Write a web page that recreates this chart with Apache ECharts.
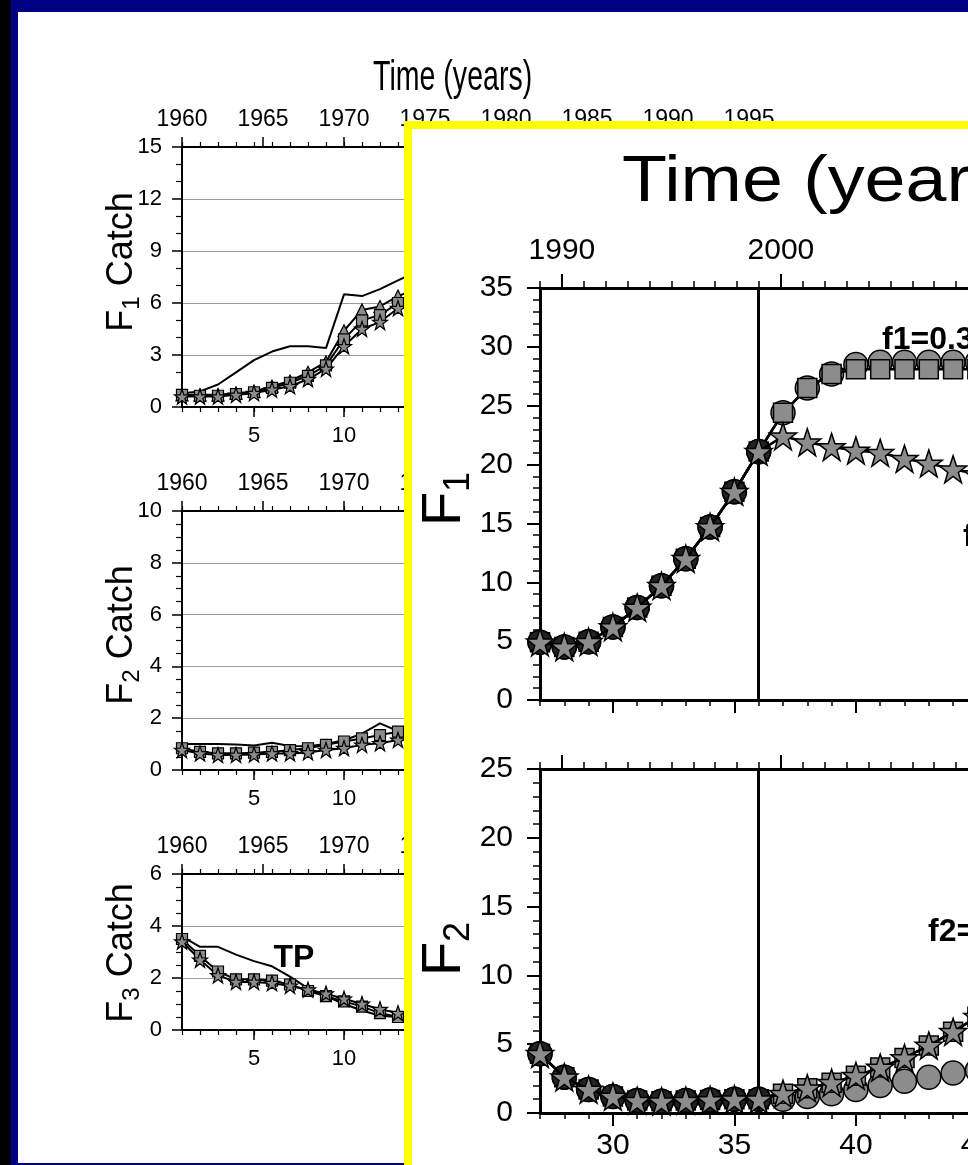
<!DOCTYPE html>
<html>
<head>
<meta charset="utf-8">
<script src="https://cdn.jsdelivr.net/npm/echarts@6.0.0/dist/echarts.min.js"></script>
<style>
  html, body { margin: 0; padding: 0; width: 968px; height: 1165px; overflow: hidden; background: #000080; }
  #edge { position: absolute; left: 0; top: 0; width: 11px; height: 1165px; background: #000; }
  #paper { position: absolute; left: 18px; top: 12px; width: 950px; height: 1151px; background: #fff; }
  #main { position: absolute; left: 0; top: 0; width: 968px; height: 1165px; }
  #panel { position: absolute; left: 404px; top: 121px; width: 700px; height: 1100px; border: 8px solid #ffff00; background: #fff; }
  #zoom { position: absolute; left: 0; top: 0; width: 556px; height: 1036px; }
</style>
</head>
<body>
<div id="edge"></div>
<div id="paper"></div>
<div id="main"></div>
<div id="panel"><div id="zoom"></div></div>
<script>
const FONT = "'Liberation Sans', Helvetica, Arial, sans-serif"
const STAR = 'path://M50,2 L61.8,36.2 L97.6,36.2 L68.6,57.6 L79.4,92 L50,71 L20.6,92 L31.4,57.6 L2.4,36.2 L38.2,36.2 Z'
const GRAY = '#8c8c8c'

// ---- left figure: catch series, index 1..14 (rest hidden under panel)
const catchIdx = [1, 2, 3, 4, 5, 6, 7, 8, 9, 10, 11, 12, 13, 14]
const idxTicks = [5, 10, 15, 20, 25, 30, 35]

const f1Tp = [0.8, 0.9, 1.3, 2.0, 2.7, 3.2, 3.5, 3.5, 3.4, 6.5, 6.4, 6.8, 7.3, 7.8]
const f1Tri = [0.7, 0.7, 0.7, 0.8, 0.9, 1.2, 1.5, 2.0, 2.6, 4.4, 5.6, 5.8, 6.4, 6.8]
const f1Sq = [0.7, 0.65, 0.65, 0.75, 0.85, 1.1, 1.4, 1.8, 2.4, 3.9, 5.0, 5.3, 6.0, 6.4]
const f1Star = [0.6, 0.6, 0.6, 0.7, 0.8, 1.0, 1.2, 1.6, 2.2, 3.5, 4.5, 4.9, 5.7, 6.1]

const f2Tp = [1.0, 1.0, 1.0, 0.98, 0.95, 1.05, 0.93, 0.92, 1.0, 1.15, 1.4, 1.8, 1.5, 1.45]
const f2Sq = [0.84, 0.7, 0.64, 0.64, 0.67, 0.7, 0.77, 0.84, 0.97, 1.1, 1.22, 1.35, 1.48, 1.55]
const f2Star = [0.77, 0.64, 0.58, 0.58, 0.6, 0.64, 0.64, 0.68, 0.77, 0.84, 0.97, 1.03, 1.16, 1.2]

const f3Tp = [3.6, 3.2, 3.2, 2.9, 2.65, 2.45, 2.05, 1.6, 1.3, 1.0, 0.75, 0.55, 0.5, 0.5]
const f3Sq = [3.5, 2.85, 2.25, 1.95, 1.95, 1.9, 1.75, 1.5, 1.3, 1.1, 0.9, 0.65, 0.5, 0.45]
const f3Star = [3.4, 2.7, 2.1, 1.85, 1.85, 1.8, 1.7, 1.55, 1.4, 1.2, 1.0, 0.8, 0.65, 0.6]

// ---- inset: index 27..46
const runIdx = [27, 28, 29, 30, 31, 32, 33, 34, 35, 36, 37, 38, 39, 40, 41, 42, 43, 44, 45, 46]
const histIdx = [27, 28, 29, 30, 31, 32, 33, 34, 35, 36]
const runTicks = [30, 35, 40, 45]
const yearTicks = [1990, 2000, 2010]
const splitAt = 36

const bigF1Hist = [4.9, 4.5, 4.95, 6.2, 7.85, 9.7, 12.0, 14.7, 17.7, 21.1]
const bigF1Circ = [24.4, 26.5, 27.7, 28.5, 28.7, 28.7, 28.7, 28.7, 28.7, 28.7]
const bigF1Sq = [24.4, 26.5, 27.7, 28.1, 28.1, 28.1, 28.1, 28.1, 28.1, 28.1]
const bigF1Star = [22.4, 21.9, 21.5, 21.2, 21.0, 20.5, 20.1, 19.6, 19.2, 18.8]

const bigF2Hist = [4.3, 2.6, 1.7, 1.2, 0.9, 0.85, 0.9, 0.95, 1.0, 1.0]
const bigF2Circ = [1.0, 1.2, 1.4, 1.7, 2.0, 2.3, 2.6, 2.9, 3.1, 3.3]
const bigF2Sq = [1.4, 1.8, 2.2, 2.7, 3.3, 4.0, 4.9, 5.9, 7.0, 8.2]
const bigF2Star = [1.4, 1.8, 2.2, 2.7, 3.3, 4.0, 4.9, 5.9, 7.0, 8.2]

const pts = (xs, ys) => ys.map((v, i) => [xs[i], v])
const blk = w => ({ color: '#000', width: w })
const plain = v => String(v)

// ---------- left figure ----------
const leftChart = echarts.init(document.getElementById('main'))
const smallGrids = [
  { top: 147, height: 260, max: 15, interval: 3, minor: 3 },
  { top: 511, height: 259, max: 10, interval: 2, minor: 4 },
  { top: 874, height: 156, max: 6, interval: 2, minor: 4 }
]
const sW = 630
const yearMax = 1960 + sW / 16.2

const lx = []
const ly = []
smallGrids.forEach((g, i) => {
  lx.push(
    { gridIndex: i, type: 'value', position: 'bottom', min: 1, max: 36,
      axisLine: { show: true, onZero: false, lineStyle: blk(2) },
      axisTick: { show: true, customValues: idxTicks, length: 10, lineStyle: blk(1.5) },
      axisLabel: { customValues: idxTicks, fontSize: 22, margin: 18, color: '#000', fontFamily: FONT },
      splitLine: { show: false } },
    { gridIndex: i, type: 'value', position: 'bottom', min: 1, max: 36, interval: 1,
      axisLine: { show: false, onZero: false }, axisTick: { length: 5, lineStyle: blk(1.2) },
      axisLabel: { show: false }, splitLine: { show: false } },
    { gridIndex: i, type: 'value', position: 'top', min: 1960, max: yearMax, interval: 5,
      axisLine: { show: true, onZero: false, lineStyle: blk(2) },
      axisTick: { length: 10, lineStyle: blk(1.5) },
      axisLabel: { fontSize: 23, margin: 16, color: '#000', fontFamily: FONT, showMaxLabel: false, formatter: plain },
      splitLine: { show: false } },
    { gridIndex: i, type: 'value', position: 'top', min: 1, max: 36, interval: 1,
      axisLine: { show: false, onZero: false }, axisTick: { length: 5, lineStyle: blk(1.2) },
      axisLabel: { show: false }, splitLine: { show: false } }
  )
  ly.push({
    gridIndex: i, type: 'value', min: 0, max: g.max, interval: g.interval,
    axisLine: { show: true, onZero: false, lineStyle: blk(2) },
    axisTick: { length: 10, lineStyle: blk(1.5) },
    minorTick: { show: true, splitNumber: g.minor, length: 6, lineStyle: blk(1.2) },
    splitLine: { show: true, lineStyle: { color: '#9a9a9a', width: 1 } },
    axisLabel: { fontSize: 22, margin: 20, color: '#000', fontFamily: FONT }
  })
})

const smallLine = (g, data) => ({
  type: 'line', xAxisIndex: g * 4, yAxisIndex: g, data: pts(catchIdx, data),
  symbol: 'none', lineStyle: blk(2), z: 2
})
const smallMark = (g, data, symbol, size) => ({
  type: 'line', xAxisIndex: g * 4, yAxisIndex: g, data: pts(catchIdx, data),
  symbol: symbol, symbolSize: size, lineStyle: blk(2),
  itemStyle: { color: GRAY, borderColor: '#000', borderWidth: 1.2 }, z: 3
})

leftChart.setOption({
  animation: false,
  grid: smallGrids.map(g => ({ left: 182, top: g.top, width: sW, height: g.height, outerBoundsMode: 'none' })),
  xAxis: lx,
  yAxis: ly,
  series: [
    smallLine(0, f1Tp), smallMark(0, f1Tri, 'triangle', 12), smallMark(0, f1Sq, 'rect', 11), smallMark(0, f1Star, STAR, 15),
    smallLine(1, f2Tp), smallMark(1, f2Sq, 'rect', 11), smallMark(1, f2Star, STAR, 15),
    smallLine(2, f3Tp), smallMark(2, f3Sq, 'rect', 11), smallMark(2, f3Star, STAR, 15)
  ],
  graphic: [
    { type: 'text', x: 373, y: 78, scaleX: 0.68, style: { text: 'Time (years)', font: '42px ' + FONT, fill: '#000', textVerticalAlign: 'middle' } },
    { type: 'text', x: 294, y: 958, style: { text: 'TP', font: 'bold 32px ' + FONT, fill: '#000', textAlign: 'center', textVerticalAlign: 'middle' } },
    ...[['1', 262], ['2', 635], ['3', 953]].map(([n, cy]) => ({
      type: 'text', x: 122, y: cy, rotation: Math.PI / 2,
      style: {
        text: '{f|F}{s|' + n + '}{f| Catch}', textAlign: 'center', textVerticalAlign: 'middle',
        rich: {
          f: { fontSize: 36, fontFamily: FONT, color: '#000', lineHeight: 44 },
          s: { fontSize: 24, fontFamily: FONT, color: '#000', lineHeight: 24, verticalAlign: 'bottom' }
        }
      }
    }))
  ]
})

// ---------- inset panel ----------
const zoomChart = echarts.init(document.getElementById('zoom'))
const bW = 24.3 * 19
const bigYearMax = 1989 + bW / 21.9
const bigGrids = [
  { top: 159, height: 412, max: 35 },
  { top: 640, height: 344, max: 25 }
]
const bx = []
const by = []
bigGrids.forEach((g, i) => {
  bx.push(
    { gridIndex: i, type: 'value', position: 'bottom', min: 27, max: 27 + bW / 24.3,
      axisLine: { show: true, onZero: false, lineStyle: blk(3) },
      axisTick: { customValues: runTicks, length: 13, lineStyle: blk(2) },
      axisLabel: { show: i === 1, customValues: runTicks, fontSize: 30, margin: 18, color: '#000', fontFamily: FONT },
      splitLine: { show: false } },
    { gridIndex: i, type: 'value', position: 'bottom', min: 27, max: 27 + bW / 24.3, interval: 1,
      axisLine: { show: false, onZero: false }, axisTick: { length: 6, lineStyle: blk(1.5) },
      axisLabel: { show: false }, splitLine: { show: false } },
    { gridIndex: i, type: 'value', position: 'top', min: 1989, max: bigYearMax,
      axisLine: { show: true, onZero: false, lineStyle: blk(3) },
      axisTick: { customValues: yearTicks, length: 14, lineStyle: blk(2) },
      axisLabel: { show: i === 0, customValues: yearTicks, fontSize: 30, margin: 22, color: '#000', fontFamily: FONT, formatter: plain },
      splitLine: { show: false } },
    { gridIndex: i, type: 'value', position: 'top', min: 1989, max: bigYearMax, interval: 1,
      axisLine: { show: false, onZero: false }, axisTick: { length: 7, lineStyle: blk(1.5) },
      axisLabel: { show: false }, splitLine: { show: false } }
  )
  by.push({
    gridIndex: i, type: 'value', min: 0, max: g.max, interval: 5,
    axisLine: { show: true, onZero: false, lineStyle: blk(3) },
    axisTick: { length: 13, lineStyle: blk(2) },
    minorTick: { show: true, splitNumber: 5, length: 7, lineStyle: blk(1.5) },
    splitLine: { show: false },
    axisLabel: { fontSize: 30, margin: 27, color: '#000', fontFamily: FONT }
  })
})

const branch = (hist, after) => pts([...histIdx, ...runIdx.slice(histIdx.length)], [...hist, ...after])
const bigSeries = (g, data, symbol, size, color, z) => ({
  type: 'line', xAxisIndex: g * 4, yAxisIndex: g, data: data,
  symbol: symbol, symbolSize: size, lineStyle: blk(2.5),
  itemStyle: { color: color, borderColor: '#000', borderWidth: 1.5 }, z: z
})
const vLine = g => ({
  type: 'line', xAxisIndex: g * 4, yAxisIndex: g, data: [], z: 1,
  markLine: {
    silent: true, symbol: ['none', 'none'], label: { show: false },
    lineStyle: { color: '#000', type: 'solid', width: 3 }, data: [{ xAxis: splitAt }]
  }
})

zoomChart.setOption({
  animation: false,
  grid: bigGrids.map(g => ({ left: 128, top: g.top, width: bW, height: g.height, outerBoundsMode: 'none' })),
  xAxis: bx,
  yAxis: by,
  series: [
    vLine(0),
    bigSeries(0, branch(bigF1Hist, bigF1Circ), 'circle', 24, GRAY, 2),
    bigSeries(0, branch(bigF1Hist, bigF1Sq), 'rect', 19, GRAY, 3),
    bigSeries(0, pts(histIdx, bigF1Hist), 'circle', 24, '#222', 4),
    bigSeries(0, branch(bigF1Hist, bigF1Star), STAR, 27, GRAY, 5),
    vLine(1),
    bigSeries(1, branch(bigF2Hist, bigF2Circ), 'circle', 24, GRAY, 2),
    bigSeries(1, branch(bigF2Hist, bigF2Sq), 'rect', 19, GRAY, 3),
    bigSeries(1, pts(histIdx, bigF2Hist), 'circle', 24, '#222', 4),
    bigSeries(1, branch(bigF2Hist, bigF2Star), STAR, 27, GRAY, 5)
  ],
  graphic: [
    { type: 'text', x: 210, y: 54, scaleX: 1.15, style: { text: 'Time (years)', font: '64px ' + FONT, fill: '#000', textVerticalAlign: 'middle' } },
    { type: 'text', x: 470, y: 211, style: { text: 'f1=0.3', font: 'bold 32px ' + FONT, fill: '#000', textVerticalAlign: 'middle' } },
    { type: 'text', x: 551, y: 408, style: { text: 'f', font: 'bold 32px ' + FONT, fill: '#000', textVerticalAlign: 'middle' } },
    { type: 'text', x: 516, y: 803, style: { text: 'f2=', font: 'bold 32px ' + FONT, fill: '#000', textVerticalAlign: 'middle' } },
    ...[['1', 370], ['2', 820]].map(([n, cy]) => ({
      type: 'text', x: 33, y: cy, rotation: Math.PI / 2,
      style: {
        text: '{f|F}{s|' + n + '}', textAlign: 'center', textVerticalAlign: 'middle',
        rich: {
          f: { fontSize: 56, fontFamily: FONT, color: '#000', lineHeight: 64 },
          s: { fontSize: 36, fontFamily: FONT, color: '#000', lineHeight: 34, verticalAlign: 'bottom' }
        }
      }
    }))
  ]
})
</script>
</body>
</html>
